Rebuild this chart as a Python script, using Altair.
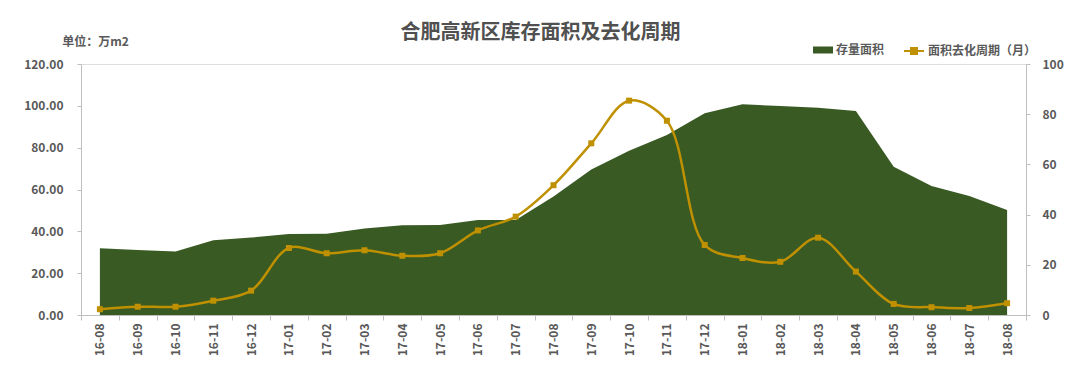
import altair as alt
import pandas as pd

months = ["16-08", "16-09", "16-10", "16-11", "16-12",
          "17-01", "17-02", "17-03", "17-04", "17-05", "17-06", "17-07",
          "17-08", "17-09", "17-10", "17-11", "17-12",
          "18-01", "18-02", "18-03", "18-04", "18-05", "18-06", "18-07", "18-08"]
stock = [31.9, 31.1, 30.3, 35.7, 37.0, 38.7, 38.9, 41.4, 42.9, 43.0, 45.4, 45.4,
         56.6, 69.6, 78.5, 86.0, 96.4, 100.7, 99.9, 99.1, 97.5, 70.9, 61.7, 56.9, 50.2]
cycle = [2.3, 3.3, 3.3, 5.7, 9.7, 26.7, 24.6, 25.8, 23.6, 24.6, 33.7, 39.2,
         51.7, 68.4, 85.4, 77.4, 27.9, 22.7, 21.2, 30.8, 17.3, 4.4, 3.1, 2.8, 4.7]
left_ticks = [0, 20, 40, 60, 80, 100, 120]
right_ticks = [0, 20, 40, 60, 80, 100]
series_area = "存量面积"
series_line = "面积去化周期（月）"

df = pd.DataFrame({"month": months, "stock": stock, "cycle": cycle,
                   "s1": series_area, "s2": series_line})

FONT = "Noto Sans CJK SC"
GRAY = "#595959"
AXIS = "#BFBFBF"
GREEN = "#3A5A24"
GOLD = "#BF9000"

xenc = alt.X(
    "month:N", sort=months, bandPosition=0.5,
    scale=alt.Scale(type="band", paddingInner=0, paddingOuter=0),
    axis=alt.Axis(title=None, labelAngle=270, tickBand="extent", labelFont=FONT,
                  labelFontSize=12, labelFontWeight="bold", labelColor=GRAY,
                  domainColor=AXIS, tickColor=AXIS, tickSize=5, labelPadding=3,
                  grid=False),
)

area = alt.Chart(df).mark_area(opacity=1, interpolate="linear").encode(
    x=xenc,
    y=alt.Y("stock:Q", scale=alt.Scale(domain=[0, 120], nice=False),
            axis=alt.Axis(values=left_ticks, format=".2f", title="单位：万m2",
                          titleAngle=0, titleX=14, titleY=-16, titleAlign="center",
                          titleBaseline="bottom",
                          titleFont=FONT, titleFontSize=12, titleFontWeight="bold",
                          titleColor=GRAY, labelFont=FONT, labelFontSize=12,
                          labelFontWeight="bold", labelColor=GRAY, domainColor=AXIS,
                          tickColor=AXIS, tickSize=4, labelPadding=14, grid=False)),
    fill=alt.Fill("s1:N", scale=alt.Scale(range=[GREEN]),
                  legend=alt.Legend(title=None, orient="none", legendX=732, legendY=-24,
                                    symbolType="M-1,-0.35H1V0.35H-1Z", symbolSize=400,
                                    symbolStrokeWidth=0, labelFont=FONT, labelFontSize=12,
                                    labelFontWeight="bold", labelColor=GRAY, labelOffset=3)),
)

yright = alt.Y("cycle:Q", scale=alt.Scale(domain=[0, 100], nice=False),
               axis=alt.Axis(orient="right", values=right_ticks, format="d", title=None,
                             labelFont=FONT, labelFontSize=12, labelFontWeight="bold",
                             labelColor=GRAY, domainColor=AXIS, tickColor=AXIS,
                             tickSize=4, labelPadding=12, grid=False))

line = alt.Chart(df).mark_line(interpolate="catmull-rom", strokeWidth=2.5).encode(
    x=xenc, y=yright,
    stroke=alt.Stroke("s2:N", scale=alt.Scale(range=[GOLD]),
                      legend=alt.Legend(title=None, orient="none", legendX=822, legendY=-24,
                                        symbolType="M-1,0H1M-0.3,-0.3H0.3V0.3H-0.3Z",
                                        symbolSize=400, symbolStrokeWidth=2,
                                        symbolFillColor=GOLD, labelFont=FONT,
                                        labelFontSize=12, labelFontWeight="bold",
                                        labelColor=GRAY, labelOffset=3)),
)
points = alt.Chart(df).mark_square(size=36, color=GOLD, opacity=1).encode(
    x=xenc, y=yright)

chart = alt.layer(area, alt.layer(line, points)).resolve_scale(
    y="independent"
).properties(
    width=945, height=251,
    title=alt.TitleParams("合肥高新区库存面积及去化周期", anchor="middle", dx=-13,
                          dy=8, offset=0, font=FONT, fontSize=20, fontWeight="bold",
                          color="#505050"),
    padding={"left": 73, "top": 56, "right": 46, "bottom": 40},
    autosize=alt.AutoSizeParams(type="none"),
).configure_view(stroke=None).configure(background="white")

chart.save("out.html", embed_options={"renderer": "svg", "actions": False})
